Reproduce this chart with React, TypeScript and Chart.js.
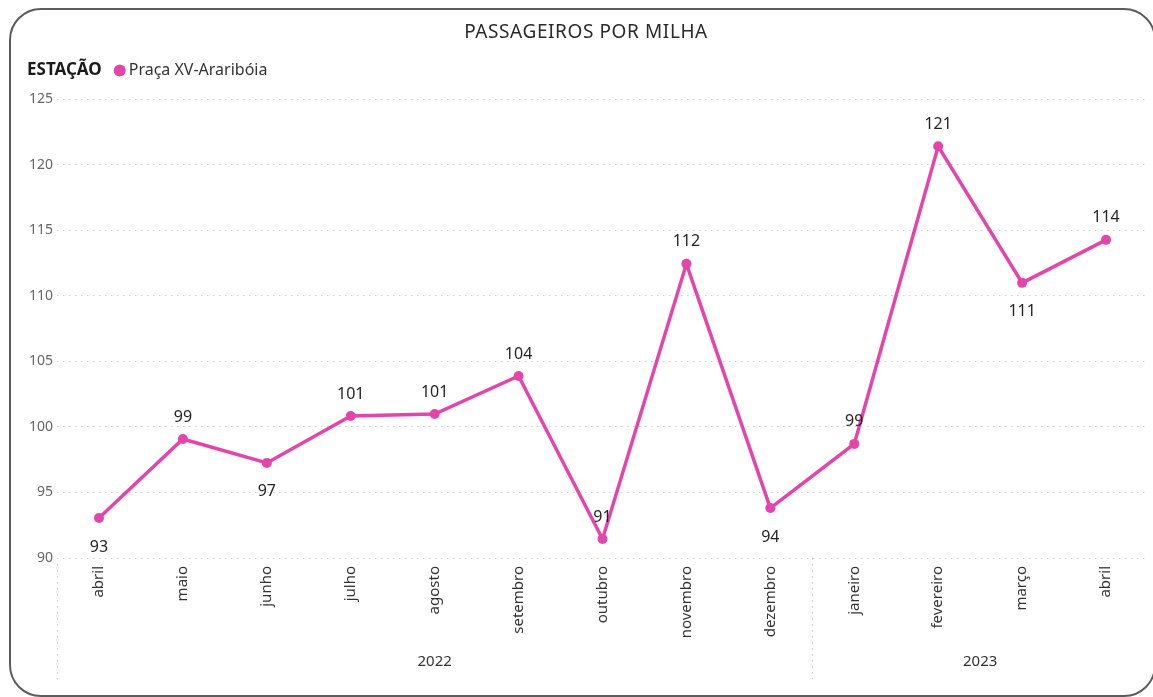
import React, { useEffect, useRef } from 'react';
import { Chart, registerables } from 'chart.js';

Chart.register(...registerables);

const titleText = 'PASSAGEIROS POR MILHA';
const legendTitle = 'ESTAÇÃO';
const seriesName = 'Praça XV-Araribóia';
const months = ['abril', 'maio', 'junho', 'julho', 'agosto', 'setembro', 'outubro', 'novembro', 'dezembro', 'janeiro', 'fevereiro', 'março', 'abril'];
const years = ['2022', '2023'];
const yearSpans = [9, 4];
const values = [93.05, 99.07, 97.25, 100.83, 100.98, 103.88, 91.45, 112.43, 93.81, 98.7, 121.4, 110.98, 114.26];
const valueLabels = ['93', '99', '97', '101', '101', '104', '91', '112', '94', '99', '121', '111', '114'];
const labelBelow = [true, false, true, false, false, false, false, false, true, false, false, true, false];
const yMin = 90;
const yMax = 125;
const yStep = 5;

const PINK = '#E445AA';
const FONT = '"Noto Sans", "Open Sans", sans-serif';
const W = 1145;
const H = 689;

const overlay = {
  id: 'overlay',
  afterDraw(chart: any) {
    const ctx = chart.ctx as any;
    const xs = chart.scales.x;
    const ys = chart.scales.y;
    const meta = chart.getDatasetMeta(0);
    ctx.save();

    // title
    ctx.font = `19px ${FONT}`;
    ctx.fillStyle = '#2a2a2a';
    ctx.textAlign = 'center';
    ctx.textBaseline = 'middle';
    ctx.letterSpacing = '0.6px';
    ctx.fillText(titleText, 578, 25);
    ctx.letterSpacing = '0px';

    // legend
    ctx.textAlign = 'left';
    ctx.font = `bold 17px ${FONT}`;
    ctx.fillStyle = '#1a1a1a';
    ctx.fillText(legendTitle, 19, 62);
    const lw = ctx.measureText(legendTitle).width;
    ctx.beginPath();
    ctx.fillStyle = PINK;
    ctx.arc(19 + lw + 18, 62.5, 6, 0, Math.PI * 2);
    ctx.fill();
    ctx.font = `16px ${FONT}`;
    ctx.fillStyle = '#333';
    ctx.fillText(seriesName, 19 + lw + 27, 62);

    // data labels
    ctx.font = `16px ${FONT}`;
    ctx.fillStyle = '#252423';
    ctx.textAlign = 'center';
    meta.data.forEach((pt: any, i: number) => {
      ctx.fillText(valueLabels[i], pt.x, pt.y + (labelBelow[i] ? 29 : -22));
    });

    // group separators and year labels
    const band = (xs.right - xs.left) / months.length;
    ctx.strokeStyle = '#c8c8c8';
    ctx.lineWidth = 1;
    ctx.setLineDash([1.5, 4.5]);
    ctx.beginPath();
    ctx.moveTo(xs.left + 0.5, ys.bottom + 6);
    ctx.lineTo(xs.left + 0.5, 671);
    ctx.stroke();
    let start = 0;
    ctx.font = `15px ${FONT}`;
    ctx.fillStyle = '#333';
    years.forEach((yr, gi) => {
      const end = start + yearSpans[gi];
      const x0 = xs.left + start * band;
      const x1 = xs.left + end * band;
      if (end < months.length) {
        ctx.beginPath();
        ctx.moveTo(Math.round(x1) + 0.5, ys.bottom);
        ctx.lineTo(Math.round(x1) + 0.5, 671);
        ctx.stroke();
      }
      ctx.fillText(yr, (x0 + x1) / 2, 654);
      start = end;
    });
    ctx.restore();
  },
};

export default function App() {
  const ref = useRef<HTMLCanvasElement | null>(null);
  useEffect(() => {
    document.body.style.overflow = 'hidden';
    const chart = new Chart(ref.current as HTMLCanvasElement, {
      type: 'line',
      data: {
        labels: months,
        datasets: [
          {
            label: seriesName,
            data: values,
            borderColor: PINK,
            backgroundColor: PINK,
            borderWidth: 3.5,
            pointRadius: 5,
            pointHoverRadius: 5,
            pointBackgroundColor: PINK,
            pointBorderWidth: 0,
            tension: 0,
          },
        ],
      },
      options: {
        responsive: false,
        animation: false,
        layout: { padding: { top: 91, right: 3, left: 0, bottom: 0 } },
        plugins: { legend: { display: false }, title: { display: false }, tooltip: { enabled: false } },
        scales: {
          x: {
            type: 'category',
            offset: true,
            grid: { display: false, drawTicks: false },
            border: { display: false },
            ticks: {
              minRotation: 90,
              maxRotation: 90,
              autoSkip: false,
              padding: 8,
              color: '#333',
              font: { family: FONT, size: 15 },
            },
            afterFit: (s: any) => {
              s.height = 139;
            },
          },
          y: {
            min: yMin,
            max: yMax,
            ticks: {
              stepSize: yStep,
              padding: 4,
              color: '#666',
              font: { family: FONT, size: 14 },
            },
            grid: {
              color: '#cfcfcf',
              lineWidth: 1,
              drawTicks: false,
            },
            border: { display: false, dash: [1.5, 4.5] },
            afterFit: (s: any) => {
              s.width = 49;
            },
          },
        },
      },
      plugins: [overlay],
    } as any);
    return () => chart.destroy();
  }, []);

  return (
    <div style={{ position: 'fixed', left: 8, top: 8, width: W, height: H, overflow: 'hidden', background: '#fff' }}>
      <div
        style={{
          position: 'absolute',
          left: 1,
          top: 0,
          width: 1147,
          height: H,
          boxSizing: 'border-box',
          border: '2px solid #5c5c5c',
          borderRadius: 32,
        }}
      />
      <canvas ref={ref} width={W} height={H} style={{ position: 'absolute', left: 0, top: 0, width: W, height: H }} />
    </div>
  );
}
